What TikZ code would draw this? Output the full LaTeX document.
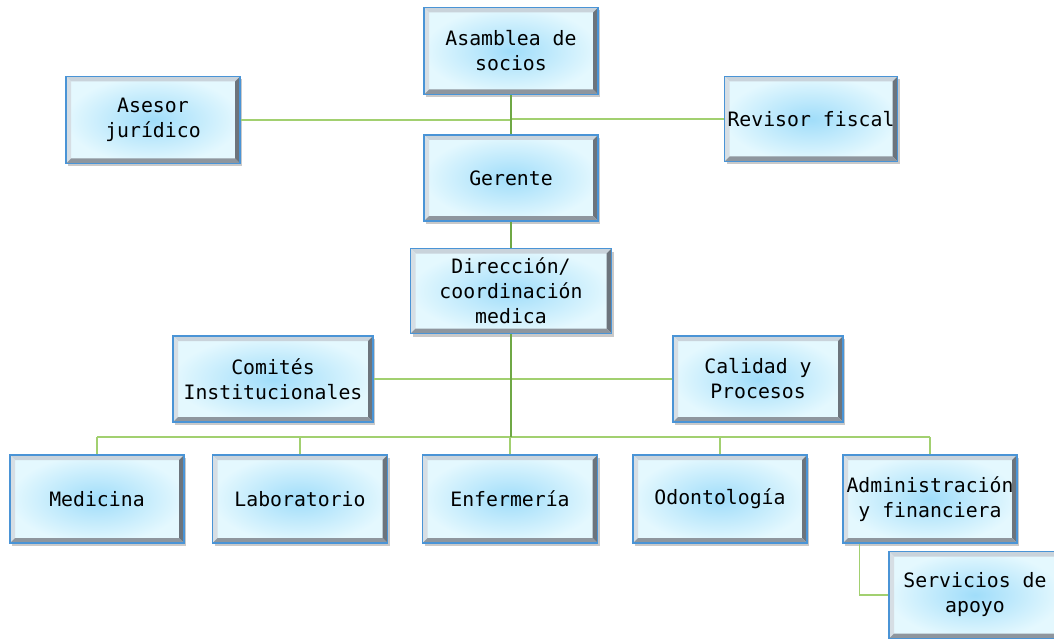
\documentclass[tikz,border=0pt]{standalone}
\usepackage{fontspec}
\setmonofont{DejaVu Sans Mono}
\usetikzlibrary{shadows,calc}
\definecolor{boxblue}{HTML}{4A94D6}
\definecolor{boxin}{HTML}{A0DDFA}
\definecolor{boxout}{HTML}{E4F8FE}
\definecolor{bevlight}{HTML}{C9D3DB}
\definecolor{bevleft}{HTML}{D6DEE4}
\definecolor{bevdark}{HTML}{6C747C}
\definecolor{bevbot}{HTML}{8E969E}
\definecolor{linegreen}{HTML}{A2D070}
\definecolor{spinegreen}{HTML}{6FA845}
\tikzset{
  orgbox/.style n args={2}{draw=boxblue, line width=1.3pt,
    inner color=boxin, outer color=boxout,
    minimum width=#1, minimum height=#2, inner sep=0pt,
    align=center, font=\ttfamily\fontsize{19.8}{25}\selectfont,
    drop shadow={shadow xshift=2pt, shadow yshift=-3pt, opacity=0.35, fill=black!60},
    path picture={
      \coordinate (nw) at (path picture bounding box.north west);
      \coordinate (ne) at (path picture bounding box.north east);
      \coordinate (sw) at (path picture bounding box.south west);
      \coordinate (se) at (path picture bounding box.south east);
      \fill[bevlight] (nw) -- (ne) -- ([shift={(-5pt,-5pt)}]ne) -- ([shift={(5pt,-5pt)}]nw) -- cycle;
      \fill[bevleft] (nw) -- (sw) -- ([shift={(5pt,5pt)}]sw) -- ([shift={(5pt,-5pt)}]nw) -- cycle;
      \fill[bevdark] (ne) -- (se) -- ([shift={(-5pt,5pt)}]se) -- ([shift={(-5pt,-5pt)}]ne) -- cycle;
      \fill[bevbot] (sw) -- (se) -- ([shift={(-5pt,5pt)}]se) -- ([shift={(5pt,5pt)}]sw) -- cycle;
    }},
  conn/.style={draw=linegreen, line width=1.3pt},
  spine/.style={draw=spinegreen, line width=1.3pt}
}
\begin{document}
\begin{tikzpicture}[x=1pt,y=-1pt]
\useasboundingbox[fill=white] (0,0) rectangle (1054,639);
\coordinate (bus) at (511,437);
\node[orgbox={174pt}{87pt}] (asam) at (511,51) {Asamblea de\\socios};
\node[orgbox={174pt}{87pt}] (ases) at (153,120) {Asesor\\jurídico};
\node[orgbox={173pt}{85pt}] (rev) at (811,119) {Revisor fiscal};
\node[orgbox={174pt}{86pt}] (ger) at (511,178) {Gerente};
\node[orgbox={201pt}{85pt}] (dir) at (511,291) {Dirección/\\coordinación\\medica};
\node[orgbox={200pt}{86pt}] (com) at (273,379) {Comités\\Institucionales};
\node[orgbox={170pt}{86pt}] (cal) at (758,379) {Calidad y\\Procesos};
\node[orgbox={174pt}{88pt}] (med) at (97,499) {Medicina};
\node[orgbox={175pt}{88pt}] (lab) at (300,499) {Laboratorio};
\node[orgbox={175pt}{88pt}] (enf) at (510,499) {Enfermería};
\node[orgbox={174pt}{88pt}] (odo) at (720,499) {Odontología};
\node[orgbox={174pt}{88pt}] (adm) at (930,499) {Administración\\y financiera};
\node[orgbox={172pt}{87pt}] (serv) at (975,595) {Servicios de\\apoyo};
% lines
\draw[conn] (ases.east) -- (ases.east -| asam.south);
\draw[conn] (rev.west) -- (rev.west -| asam.south);
\draw[conn] (com.east) -- (cal.west);
\draw[conn] (med.north |- bus) -- (adm.north |- bus);
\foreach \n in {med,lab,enf,odo,adm} \draw[conn] (\n.north) -- (\n.north |- bus);
\draw[spine] (asam.south) -- (ger.north);
\draw[spine] (ger.south) -- (dir.north);
\draw[spine] (dir.south) -- (bus);
\draw[conn] ([xshift=17pt]adm.south west) |- (serv.west);
\end{tikzpicture}
\end{document}
